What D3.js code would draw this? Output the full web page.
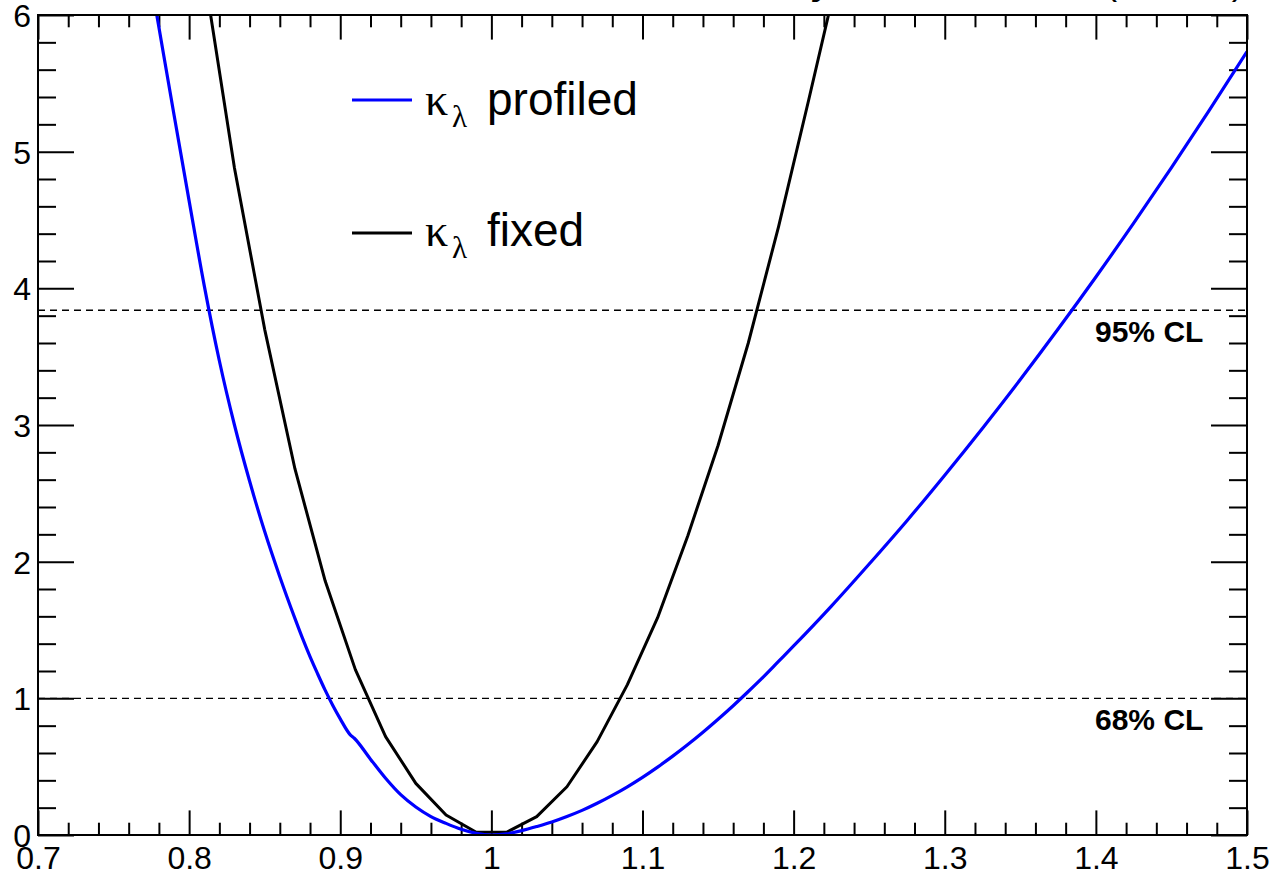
<!DOCTYPE html>
<html>
<head>
<meta charset="utf-8">
<script src="https://cdn.jsdelivr.net/npm/d3@7"></script>
<style>
  html, body { margin: 0; padding: 0; background: #fff; }
  svg { display: block; }
</style>
</head>
<body>
<svg id="chart" width="1270" height="876"></svg>
<script>
// ---------------- data ----------------
const xTickValues = [0.7, 0.8, 0.9, 1.0, 1.1, 1.2, 1.3, 1.4, 1.5];
const xTickLabels = ["0.7", "0.8", "0.9", "1", "1.1", "1.2", "1.3", "1.4", "1.5"];
const yTickValues = [0, 1, 2, 3, 4, 5, 6];
const yTickLabels = ["0", "1", "2", "3", "4", "5", "6"];

// kappa_lambda profiled (blue)
const profiledX = [0.775, 0.78, 0.79, 0.80, 0.81, 0.82, 0.83, 0.84, 0.85, 0.86, 0.87, 0.875, 0.88, 0.885,
  0.89, 0.895, 0.90, 0.9065, 0.9093, 0.92, 0.93, 0.94, 0.95, 0.96, 0.97, 0.98, 0.99, 1.00,
  1.01, 1.02, 1.03, 1.04, 1.05, 1.06, 1.07, 1.08, 1.09, 1.10, 1.11, 1.12, 1.13, 1.14, 1.15,
  1.16, 1.17, 1.18, 1.19, 1.20, 1.225, 1.25, 1.275, 1.30, 1.325, 1.35, 1.375, 1.40, 1.425,
  1.45, 1.475, 1.50];
const profiledY = [6.23, 5.91, 5.27, 4.64, 4.02, 3.47, 3.00, 2.59, 2.22, 1.89, 1.585, 1.44, 1.305, 1.18,
  1.06, 0.95, 0.85, 0.735, 0.708, 0.555, 0.415, 0.295, 0.205, 0.135, 0.085, 0.042, 0.012, 0.0,
  0.008, 0.032, 0.062, 0.095, 0.135, 0.18, 0.232, 0.29, 0.353, 0.422, 0.497, 0.577, 0.662, 0.752, 0.847,
  0.946, 1.05, 1.157, 1.27, 1.383, 1.675, 1.983, 2.30, 2.633, 2.977, 3.333, 3.702, 4.083, 4.477,
  4.883, 5.302, 5.733];

// kappa_lambda fixed (black)
const fixedX = [0.81, 0.83, 0.85, 0.87, 0.89, 0.91, 0.93, 0.95, 0.97, 0.99, 1.01, 1.03, 1.05, 1.07,
  1.09, 1.11, 1.13, 1.15, 1.17, 1.19, 1.21, 1.23];
const fixedY = [6.30, 4.88, 3.70, 2.68, 1.86, 1.21, 0.72, 0.378, 0.146, 0.02, 0.02, 0.134, 0.353, 0.683,
  1.10, 1.59, 2.19, 2.85, 3.60, 4.45, 5.38, 6.33];

const clLevels = [3.84, 1.0];
const clLabels = ["95% CL", "68% CL"];

const seriesNames = ["profiled", "fixed"];
const seriesColors = ["#0000ff", "#000000"];

// ---------------- layout ----------------
const W = 1270, H = 876;
const L = 38, R = 1247, T = 15, B = 835;
const sans = "'Liberation Sans', Arial, Helvetica, sans-serif";
const serif = "'Liberation Serif', 'Times New Roman', serif";

const svg = d3.select("#chart");
svg.append("rect").attr("width", W).attr("height", H).attr("fill", "#fff");

const x = d3.scaleLinear().domain([0.7, 1.5]).range([L, R]);
const y = d3.scaleLinear().domain([0, 6]).range([B, T]);

// clip
svg.append("defs").append("clipPath").attr("id", "plotclip")
  .append("rect").attr("x", L).attr("y", T).attr("width", R - L).attr("height", B - T);

// partial header text (cut at top of canvas)
svg.append("text").attr("x", 834).attr("y", -6).attr("text-anchor", "end")
  .attr("font-family", sans).attr("font-size", 37).attr("font-weight", "bold").attr("font-style", "italic")
  .text("CMS Phase-2 Simulation Preliminary");
svg.append("text").attr("x", 1244).attr("y", -6).attr("text-anchor", "end")
  .attr("font-family", sans).attr("font-size", 37)
  .text("3000 fb\u207B\u00B9 (14 TeV)");

// ---------------- axes ----------------
const majLenX = 24.6, minLenX = 12.3, majLenY = 36, minLenY = 18;
const xMinor = d3.range(0, 41).map(i => 0.7 + i * 0.02).filter(v => !xTickValues.some(t => Math.abs(t - v) < 1e-6));
const yMinor = d3.range(0, 31).map(i => i * 0.2).filter(v => !yTickValues.some(t => Math.abs(t - v) < 1e-6));

function styleAxis(g) {
  g.select(".domain").remove();
  g.selectAll(".tick line").attr("stroke", "#000").attr("stroke-width", 2);
  g.attr("font-family", sans).attr("font-size", 32);
}

// bottom
const gB = svg.append("g").attr("transform", `translate(0,${B})`)
  .call(d3.axisBottom(x).tickValues(xTickValues).tickSize(-majLenX)
    .tickFormat((d, i) => xTickLabels[i]));
styleAxis(gB);
gB.selectAll(".tick text").attr("y", 34).attr("dy", null).attr("fill", "#000");
svg.append("g").attr("transform", `translate(0,${B})`)
  .call(d3.axisBottom(x).tickValues(xMinor).tickSize(-minLenX).tickFormat(""))
  .call(styleAxis);
// top
svg.append("g").attr("transform", `translate(0,${T})`)
  .call(d3.axisBottom(x).tickValues(xTickValues).tickSize(majLenX).tickFormat(""))
  .call(styleAxis);
svg.append("g").attr("transform", `translate(0,${T})`)
  .call(d3.axisBottom(x).tickValues(xMinor).tickSize(minLenX).tickFormat(""))
  .call(styleAxis);
// left
const gL = svg.append("g").attr("transform", `translate(${L},0)`)
  .call(d3.axisLeft(y).tickValues(yTickValues).tickSize(-majLenY)
    .tickFormat((d, i) => yTickLabels[i]));
styleAxis(gL);
gL.selectAll(".tick text").attr("x", -7).attr("dy", "0.36em").attr("fill", "#000");
svg.append("g").attr("transform", `translate(${L},0)`)
  .call(d3.axisLeft(y).tickValues(yMinor).tickSize(-minLenY).tickFormat(""))
  .call(styleAxis);
// right
svg.append("g").attr("transform", `translate(${R},0)`)
  .call(d3.axisLeft(y).tickValues(yTickValues).tickSize(majLenY).tickFormat(""))
  .call(styleAxis);
svg.append("g").attr("transform", `translate(${R},0)`)
  .call(d3.axisLeft(y).tickValues(yMinor).tickSize(minLenY).tickFormat(""))
  .call(styleAxis);

// ---------------- CL lines ----------------
svg.append("g").selectAll("line").data(clLevels).join("line")
  .attr("x1", x(0.7)).attr("x2", x(1.5))
  .attr("y1", d => y(d)).attr("y2", d => y(d))
  .attr("stroke", "#000").attr("stroke-width", 1.4).attr("stroke-dasharray", "7,5");
svg.append("g").selectAll("text").data(clLevels).join("text")
  .attr("x", 1095).attr("y", d => y(d) + 32)
  .attr("font-family", sans).attr("font-size", 30).attr("font-weight", "bold")
  .text((d, i) => clLabels[i]);

// ---------------- curves ----------------
const gc = svg.append("g").attr("clip-path", "url(#plotclip)");
const profiled = profiledX.map((v, i) => [v, profiledY[i]]);
const fixed = fixedX.map((v, i) => [v, fixedY[i]]);

gc.append("path").datum(fixed)
  .attr("d", d3.line().x(d => x(d[0])).y(d => y(d[1])).curve(d3.curveLinear))
  .attr("fill", "none").attr("stroke", seriesColors[1]).attr("stroke-width", 3)
  .attr("stroke-linejoin", "round");
gc.append("path").datum(profiled)
  .attr("d", d3.line().x(d => x(d[0])).y(d => y(d[1])).curve(d3.curveMonotoneX))
  .attr("fill", "none").attr("stroke", seriesColors[0]).attr("stroke-width", 3.2)
  .attr("stroke-linejoin", "round");

// ---------------- frame ----------------
svg.append("rect").attr("x", L).attr("y", T).attr("width", R - L).attr("height", B - T)
  .attr("fill", "none").attr("stroke", "#000").attr("stroke-width", 2);

// ---------------- legend ----------------
const legY = [100, 233];
const legBase = [115, 246];
const lg = svg.append("g");
seriesNames.forEach((name, i) => {
  lg.append("line").attr("x1", 352).attr("x2", 412).attr("y1", legY[i]).attr("y2", legY[i])
    .attr("stroke", seriesColors[i]).attr("stroke-width", 3.2);
  lg.append("text").attr("x", 425).attr("y", legBase[i])
    .attr("font-family", serif).attr("font-size", 46).text("\u03BA");
  lg.append("text").attr("x", 452).attr("y", legBase[i] + 12)
    .attr("font-family", serif).attr("font-size", 31).text("\u03BB");
  lg.append("text").attr("x", 487).attr("y", legBase[i])
    .attr("font-family", sans).attr("font-size", 46).text(name);
});
</script>
</body>
</html>
